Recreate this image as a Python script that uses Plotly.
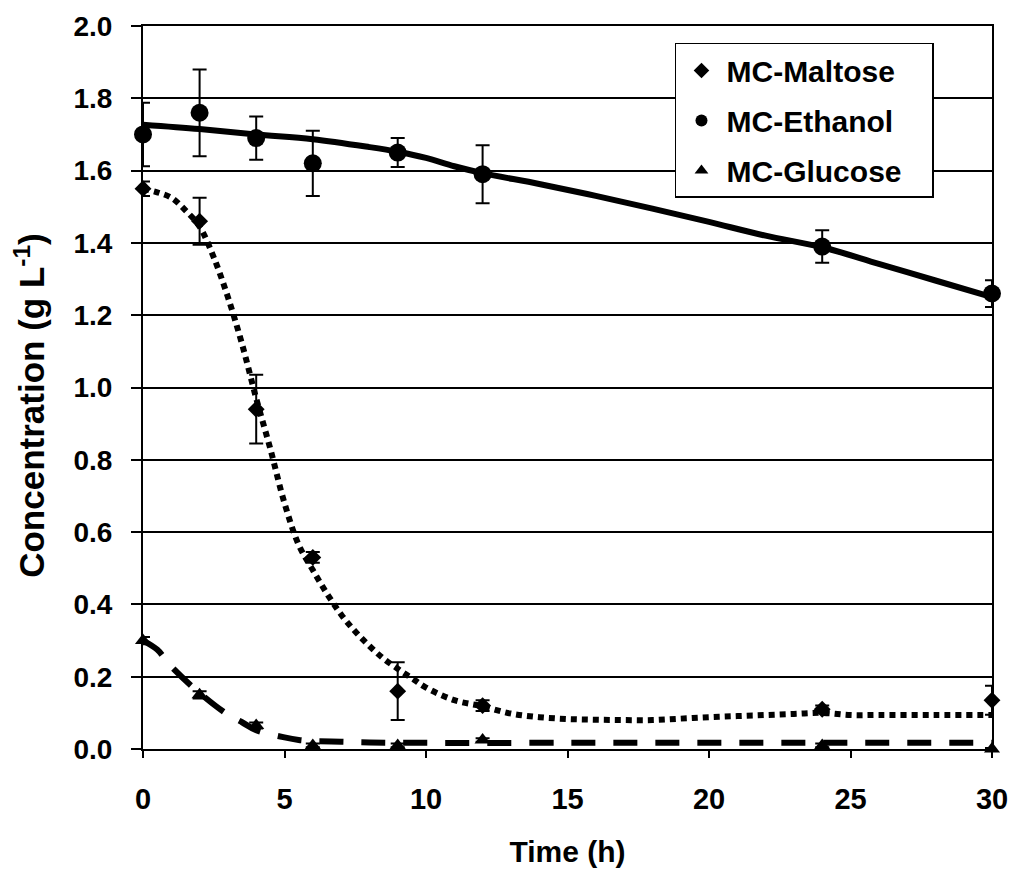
import plotly.graph_objects as go

# Measured data points
time_pts = [0, 2, 4, 6, 9, 12, 24, 30]
maltose = [1.55, 1.46, 0.94, 0.53, 0.16, 0.12, 0.11, 0.135]
maltose_err = [0.02, 0.065, 0.095, 0.015, 0.08, 0.015, 0.01, 0.04]
ethanol = [1.70, 1.76, 1.69, 1.62, 1.65, 1.59, 1.39, 1.26]
ethanol_err = [0.088, 0.12, 0.06, 0.09, 0.04, 0.08, 0.045, 0.037]
glucose = [0.30, 0.15, 0.065, 0.01, 0.01, 0.025, 0.01, 0.0]
glucose_err = [0.01, 0.01, 0.008, 0.005, 0.005, 0.005, 0.005, 0.003]

# Trend curves
maltose_curve_t = [0, 0.5, 1, 1.5, 2, 2.5, 3, 3.5, 4, 4.5, 5, 5.5, 6, 6.5, 7, 7.5, 8, 8.5,
                   9, 9.5, 10, 11, 12, 13, 14, 15, 16, 17, 18, 19, 20, 21, 22, 23, 24, 25,
                   26, 28, 30]
maltose_curve = [1.55, 1.54, 1.525, 1.49, 1.445, 1.36, 1.25, 1.12, 0.97, 0.83, 0.68, 0.565,
                 0.495, 0.43, 0.372, 0.325, 0.285, 0.25, 0.222, 0.196, 0.17, 0.135, 0.118,
                 0.098, 0.088, 0.083, 0.081, 0.08, 0.08, 0.084, 0.088, 0.091, 0.094, 0.097,
                 0.1, 0.094, 0.094, 0.094, 0.094]
ethanol_curve_t = [0, 2, 4, 6, 8, 9, 10, 11, 12, 14, 16, 18, 20, 22, 24, 26, 28, 30]
ethanol_curve = [1.727, 1.715, 1.70, 1.687, 1.665, 1.652, 1.635, 1.612, 1.593, 1.563, 1.53,
                 1.495, 1.458, 1.42, 1.388, 1.342, 1.296, 1.25]
glucose_curve_t = [0, 0.5, 1, 2, 3, 3.5, 4, 5, 5.5, 6, 7, 8, 10, 15, 20, 25, 30]
glucose_curve = [0.30, 0.275, 0.228, 0.155, 0.095, 0.074, 0.052, 0.032, 0.025, 0.022, 0.02,
                 0.018, 0.017, 0.017, 0.017, 0.017, 0.017]

x_ticks = [0, 5, 10, 15, 20, 25, 30]
y_ticks = [0, 0.2, 0.4, 0.6, 0.8, 1.0, 1.2, 1.4, 1.6, 1.8, 2.0]
series_names = ["MC-Maltose", "MC-Ethanol", "MC-Glucose"]
x_title = "Time (h)"
y_title = "Concentration (g L<sup>-1</sup>)"

FONT = "Liberation Sans, Arial, sans-serif"
fig = go.Figure()

fig.add_trace(go.Scatter(x=maltose_curve_t, y=maltose_curve, mode="lines", line_shape="spline",
                         line=dict(color="black", width=6, dash="6px,5px"), showlegend=False,
                         hoverinfo="skip"))
fig.add_trace(go.Scatter(x=ethanol_curve_t, y=ethanol_curve, mode="lines", line_shape="spline",
                         line=dict(color="black", width=6), showlegend=False, hoverinfo="skip"))
fig.add_trace(go.Scatter(x=glucose_curve_t, y=glucose_curve, mode="lines", line_shape="spline",
                         line=dict(color="black", width=6, dash="24px,18px"), showlegend=False,
                         hoverinfo="skip"))

def err(vals):
    return dict(type="data", array=vals, visible=True, color="black", thickness=2, width=7)

def lname(n):
    return "<b>" + n + "</b>\u00a0\u00a0\u00a0"

fig.add_trace(go.Scatter(x=time_pts, y=maltose, mode="markers", name=lname(series_names[0]),
                         legendgroup="a", cliponaxis=False,
                         marker=dict(symbol="diamond", size=13, color="black"),
                         error_y=err(maltose_err)))
fig.add_trace(go.Scatter(x=time_pts, y=ethanol, mode="markers", name=lname(series_names[1]),
                         legendgroup="b", cliponaxis=False,
                         marker=dict(symbol="circle", size=18, color="black"),
                         error_y=err(ethanol_err)))
fig.add_trace(go.Scatter(x=time_pts, y=glucose, mode="markers", name=lname(series_names[2]),
                         legendgroup="c", cliponaxis=False,
                         marker=dict(symbol="triangle-up", size=14, color="black"),
                         error_y=err(glucose_err)))

fig.update_layout(
    width=1013, height=877,
    margin=dict(l=143, r=21, t=26, b=128, autoexpand=False),
    paper_bgcolor="white", plot_bgcolor="white",
    font=dict(family=FONT, color="black", size=28),
    legend=dict(x=0.6266, y=0.9765, xanchor="left", yanchor="top",
                bgcolor="white", bordercolor="black", borderwidth=1.5,
                font=dict(family=FONT, size=30, color="black"),
                tracegroupgap=8, itemsizing="constant", itemwidth=40),
    xaxis=dict(range=[0, 30], tickvals=x_ticks,
               ticktext=["<b>%d</b>" % v for v in x_ticks],
               ticks="outside", ticklen=7, tickwidth=1.5, tickcolor="black",
               ticklabelstandoff=16,
               showline=True, linecolor="black", linewidth=2, mirror=True,
               showgrid=False, zeroline=False, automargin=False,
               tickfont=dict(family=FONT, size=29, color="black"),
               title=dict(text="<b>" + x_title + "</b>", font=dict(family=FONT, size=30),
                          standoff=27)),
    yaxis=dict(range=[0, 2.0], tickvals=y_ticks,
               ticktext=["<b>%.1f</b>" % v for v in y_ticks],
               ticks="outside", ticklen=10, tickwidth=1.5, tickcolor="black",
               ticklabelstandoff=13,
               showline=True, linecolor="black", linewidth=2, mirror=True,
               showgrid=True, gridcolor="black", gridwidth=1.5, zeroline=False,
               automargin=False,
               tickfont=dict(family=FONT, size=28, color="black")),
    annotations=[dict(text="<b>" + y_title + "</b>", textangle=-90,
                      xref="paper", yref="paper", x=-0.134, y=0.475,
                      xanchor="center", yanchor="middle", showarrow=False,
                      font=dict(family=FONT, size=35, color="black"))],
)

fig.write_html("out.html", config={"displayModeBar": False},
               post_script="document.body.style.margin='0';")
